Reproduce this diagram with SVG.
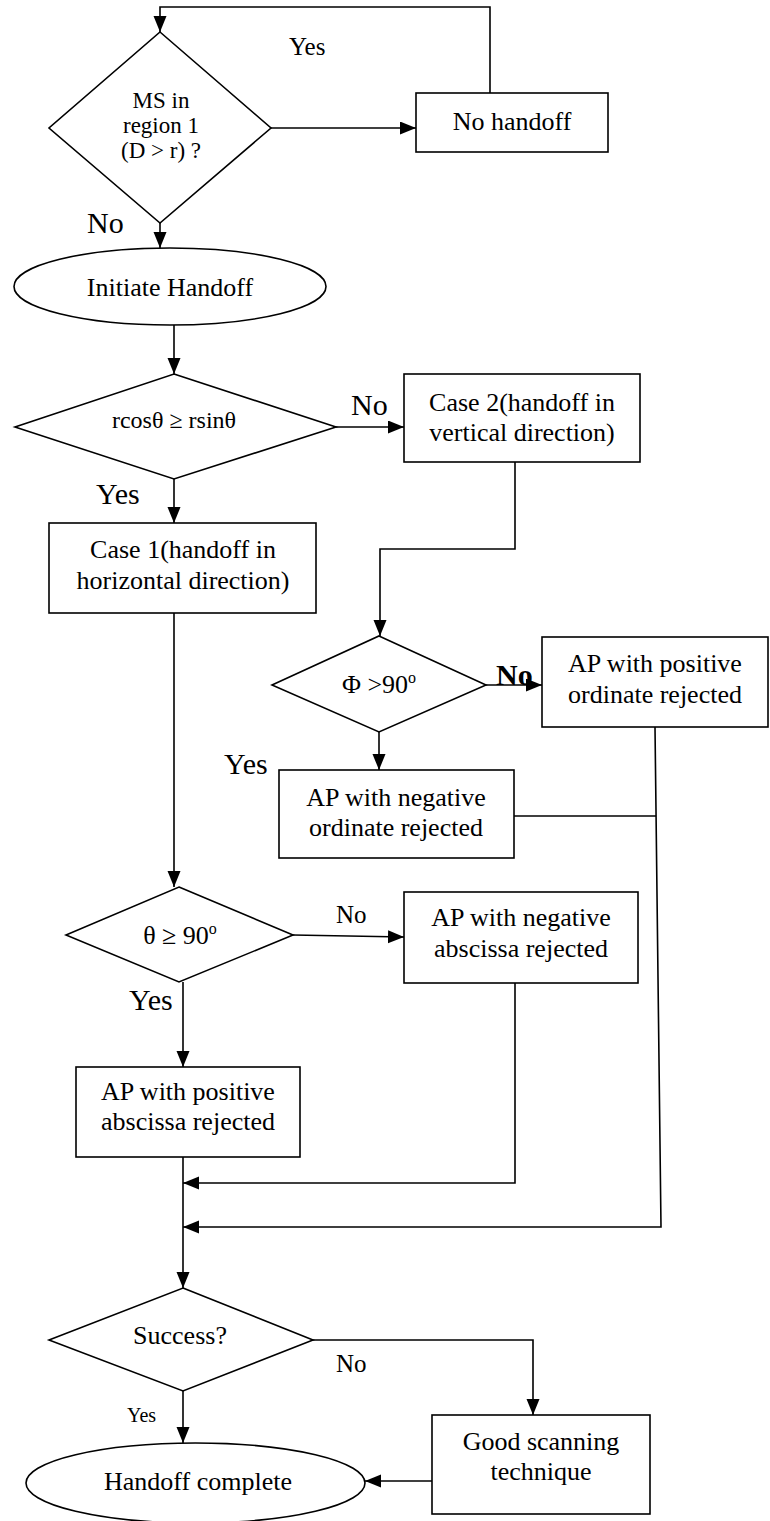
<svg xmlns="http://www.w3.org/2000/svg" width="770" height="1521" viewBox="0 0 770 1521">
<style>
.s{fill:#fff;stroke:#000;stroke-width:1.6}
.c{fill:none;stroke:#000;stroke-width:1.6}
text{font-family:"Liberation Serif","Times New Roman",serif;fill:#000}
.t{font-size:26px;text-anchor:middle}
.l{font-size:30px}
.m{font-size:25px}
</style>
<defs>
<marker id="ah" markerUnits="userSpaceOnUse" markerWidth="17" markerHeight="14" refX="16" refY="6.5" orient="auto">
<path d="M0,0 L16,6.5 L0,13 z" fill="#000"/>
</marker>
</defs>
<rect width="770" height="1521" fill="#fff"/>
<g id="connectors">
<path class="c" d="M490,93 V7 H160 V32" marker-end="url(#ah)"/>
<path class="c" d="M271,128 H416" marker-end="url(#ah)"/>
<path class="c" d="M160,223 V248" marker-end="url(#ah)"/>
<path class="c" d="M174,325 V374" marker-end="url(#ah)"/>
<path class="c" d="M336,427 H404" marker-end="url(#ah)"/>
<path class="c" d="M174,479 V523" marker-end="url(#ah)"/>
<path class="c" d="M515,462 V549 H380 V636" marker-end="url(#ah)"/>
<path class="c" d="M486,685 H542" marker-end="url(#ah)"/>
<path class="c" d="M379,732 V770" marker-end="url(#ah)"/>
<path class="c" d="M514,816 H656"/>
<path class="c" d="M655,727 L661,1227 H183" marker-end="url(#ah)"/>
<path class="c" d="M174,613 V887" marker-end="url(#ah)"/>
<path class="c" d="M293,935 L404,937" marker-end="url(#ah)"/>
<path class="c" d="M183,982 V1067" marker-end="url(#ah)"/>
<path class="c" d="M515,983 V1183 H183" marker-end="url(#ah)"/>
<path class="c" d="M183,1157 V1288" marker-end="url(#ah)"/>
<path class="c" d="M313,1340 H533 V1415" marker-end="url(#ah)"/>
<path class="c" d="M183,1391 V1443" marker-end="url(#ah)"/>
<path class="c" d="M432,1481 H365" marker-end="url(#ah)"/>
<text x="289" y="55" style="font-size:25px">Yes</text>
<text x="87" y="233" class="l">No</text>
<text x="351" y="415" class="l">No</text>
<text x="96" y="504" class="l">Yes</text>
<text x="496" y="685" class="l" font-weight="bold">No</text>
<text x="224" y="774" class="l">Yes</text>
<text x="336" y="923" class="m">No</text>
<text x="129" y="1010" class="l">Yes</text>
<text x="336" y="1372" class="m">No</text>
<text x="127" y="1422" style="font-size:20px">Yes</text>
</g>
<g id="n-region">
<polygon class="s" points="160,32 271,128 160,223 49,128"/>
<text class="t" x="161" y="108" style="font-size:23px">MS in</text>
<text class="t" x="161" y="133" style="font-size:23px">region 1</text>
<text class="t" x="161" y="158" style="font-size:23px">(D &gt; r) ?</text>
</g>
<g id="n-nohandoff">
<rect class="s" x="416" y="93" width="192" height="59"/>
<text class="t" x="512" y="130">No handoff</text>
</g>
<g id="n-initiate">
<ellipse class="s" cx="170" cy="286.5" rx="156" ry="38.5"/>
<text class="t" x="170" y="296">Initiate Handoff</text>
</g>
<g id="n-rcos">
<polygon class="s" points="174,374 336,427 174,479 15,427"/>
<text class="t" x="174" y="428" style="font-size:24px">rcosθ ≥ rsinθ</text>
</g>
<g id="n-case2">
<rect class="s" x="404" y="374" width="236" height="88"/>
<text class="t" x="522" y="411">Case 2(handoff in</text>
<text class="t" x="522" y="441">vertical direction)</text>
</g>
<g id="n-case1">
<rect class="s" x="49" y="523" width="267" height="90"/>
<text class="t" x="183" y="558">Case 1(handoff in</text>
<text class="t" x="183" y="589">horizontal direction)</text>
</g>
<g id="n-phi">
<polygon class="s" points="379,636 486,685 379,732 272,685"/>
<text class="t" x="379" y="693">Φ &gt;90<tspan dy="-10" style="font-size:16px">o</tspan></text>
</g>
<g id="n-posord">
<rect class="s" x="542" y="637" width="226" height="90"/>
<text class="t" x="655" y="672">AP with positive</text>
<text class="t" x="655" y="703">ordinate rejected</text>
</g>
<g id="n-negord">
<rect class="s" x="279" y="770" width="235" height="88"/>
<text class="t" x="396" y="806">AP with negative</text>
<text class="t" x="396" y="836">ordinate rejected</text>
</g>
<g id="n-theta">
<polygon class="s" points="179,887 293,935 179,982 66,935"/>
<text class="t" x="180" y="944">θ ≥ 90<tspan dy="-10" style="font-size:16px">o</tspan></text>
</g>
<g id="n-negabs">
<rect class="s" x="404" y="892" width="234" height="91"/>
<text class="t" x="521" y="926">AP with negative</text>
<text class="t" x="521" y="957">abscissa rejected</text>
</g>
<g id="n-posabs">
<rect class="s" x="76" y="1067" width="224" height="90"/>
<text class="t" x="188" y="1100">AP with positive</text>
<text class="t" x="188" y="1130">abscissa rejected</text>
</g>
<g id="n-success">
<polygon class="s" points="183,1288 313,1340 183,1391 49,1340"/>
<text class="t" x="180" y="1344">Success?</text>
</g>
<g id="n-good">
<rect class="s" x="432" y="1415" width="218" height="99"/>
<text class="t" x="541" y="1450">Good scanning</text>
<text class="t" x="541" y="1480">technique</text>
</g>
<g id="n-complete">
<ellipse class="s" cx="195.5" cy="1483" rx="169.5" ry="40"/>
<text class="t" x="198" y="1490">Handoff complete</text>
</g>
</svg>
